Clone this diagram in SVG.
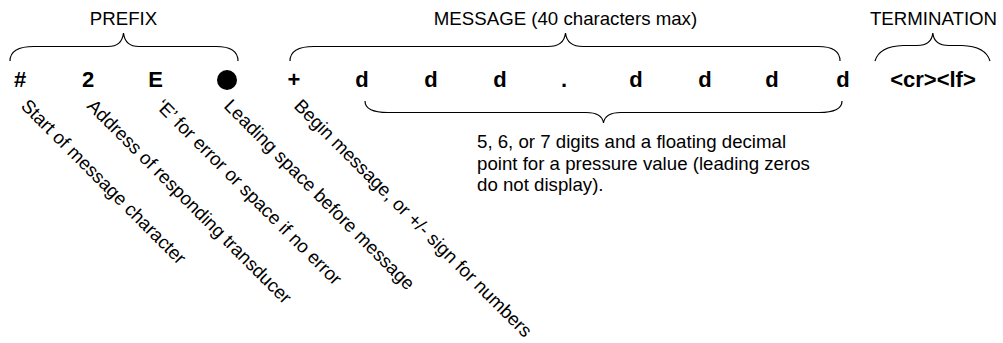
<svg xmlns="http://www.w3.org/2000/svg" width="1003" height="343" viewBox="0 0 1003 343">
<style>
text { font-family: "Liberation Sans", Arial, sans-serif; fill: #000; }
.lbl { font-size: 18.67px; text-anchor: middle; }
.ch { font-size: 22px; font-weight: bold; text-anchor: middle; }
.diag { font-size: 18.67px; }
.para { font-size: 18.67px; }
.brace { fill: none; stroke: #000; stroke-width: 1.2; }
</style>
<rect width="1003" height="343" fill="#fff"/>
<g id="connectors">
  <path class="brace" d="M10,61 C10,51 18,46.5 34,46.5 L108,46.5 C118,46.5 122.5,42 123.5,33 C124.5,42 129,46.5 139,46.5 L216,46.5 C231,46.5 238,51 238,61"/>
  <path class="brace" d="M290,61 C290,51 298,46.5 314,46.5 L548,46.5 C559,46.5 564.5,42 565.5,33 C566.5,42 572,46.5 583,46.5 L818,46.5 C833,46.5 840,51 840,61"/>
  <path class="brace" d="M875,61 C878,51 887,46 903,45.5 L917,45.5 C927,45.5 932,41 932.8,33 C933.6,41 939,45.5 949,45.5 L962,45.5 C978,46 987,51 990,61"/>
  <path class="brace" d="M365,101 C365,108 372,112.5 388,112.5 L586,112.5 C597,112.5 602.5,116 603.5,123 C604.5,116 610,112.5 621,112.5 L819,112.5 C835,112.5 842,108 842,101"/>
</g>
<g id="prefix-label"><text class="lbl" x="123.5" y="25">PREFIX</text></g>
<g id="message-label"><text class="lbl" x="565.5" y="25">MESSAGE (40 characters max)</text></g>
<g id="termination-label"><text class="lbl" x="933.5" y="25">TERMINATION</text></g>
<g id="chars">
  <text class="ch" x="20" y="87">#</text>
  <text class="ch" x="88" y="87">2</text>
  <text class="ch" x="155.5" y="87">E</text>
  <circle cx="227" cy="80" r="10" fill="#000"/>
  <text class="ch" x="294" y="87">+</text>
  <text class="ch" x="362" y="87">d</text>
  <text class="ch" x="431" y="87">d</text>
  <text class="ch" x="500" y="87">d</text>
  <text class="ch" x="564" y="87">.</text>
  <text class="ch" x="636" y="87">d</text>
  <text class="ch" x="705" y="87">d</text>
  <text class="ch" x="772" y="87">d</text>
  <text class="ch" x="843" y="87">d</text>
  <text class="ch" x="933" y="87">&lt;cr&gt;&lt;lf&gt;</text>
</g>
<g id="note-start"><text class="diag" transform="translate(20,107) rotate(45)">Start of message character</text></g>
<g id="note-address"><text class="diag" transform="translate(86,107) rotate(45)">Address of responding transducer</text></g>
<g id="note-error"><text class="diag" transform="translate(155,107) rotate(45)">‘E’ for error or space if no error</text></g>
<g id="note-leading"><text class="diag" transform="translate(223,107) rotate(45)">Leading space before message</text></g>
<g id="note-begin"><text class="diag" transform="translate(293,107) rotate(45)">Begin message, or +/- sign for numbers</text></g>
<g id="note-digits">
  <text class="para" x="477" y="148">5, 6, or 7 digits and a floating decimal</text>
  <text class="para" x="477" y="169.5">point for a pressure value (leading zeros</text>
  <text class="para" x="477" y="191">do not display).</text>
</g>
</svg>
